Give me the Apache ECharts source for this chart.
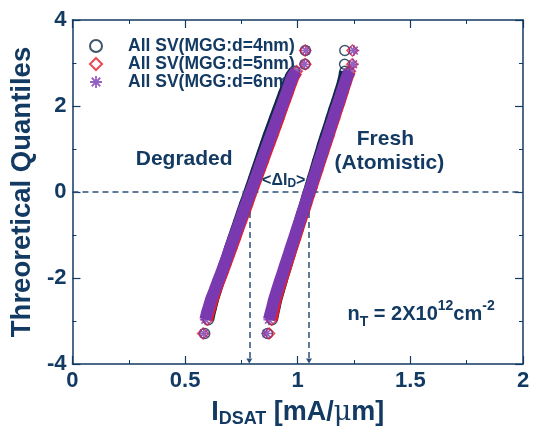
<!DOCTYPE html>
<html><head><meta charset="utf-8">
<script src="https://cdn.jsdelivr.net/npm/echarts@6/dist/echarts.min.js"></script>
<style>html,body{margin:0;padding:0;background:#fff}#c{width:536px;height:433px}</style>
</head><body><div id="c"></div>
<script>
// theoretical quantiles (y) shared by every curve
const quantiles = [-3.29,-2.97,-2.81,-2.69,-2.5,-2.3,-2.1,-1.9,-1.7,-1.5,-1.3,-1.1,-0.9,-0.7,-0.5,-0.3,-0.1,0.1,0.3,0.5,0.7,0.9,1.1,1.3,1.5,1.7,1.9,2.1,2.3,2.5,2.69,2.81,2.97,3.29];
// IDSAT values, degraded group
const degraded4 = [0.587,0.603,0.609,0.615,0.624,0.636,0.648,0.662,0.675,0.688,0.700,0.713,0.726,0.739,0.752,0.765,0.779,0.792,0.805,0.818,0.831,0.844,0.857,0.870,0.884,0.898,0.912,0.926,0.940,0.955,0.970,0.985,1.032,1.034];
const degraded5 = [0.580,0.598,0.605,0.612,0.622,0.635,0.649,0.664,0.678,0.692,0.706,0.720,0.733,0.747,0.761,0.775,0.788,0.802,0.816,0.830,0.844,0.858,0.872,0.886,0.900,0.914,0.927,0.941,0.955,0.968,0.982,0.996,1.034,1.033];
const degraded6 = [0.583,0.590,0.597,0.604,0.615,0.630,0.644,0.659,0.673,0.687,0.700,0.714,0.728,0.742,0.755,0.769,0.783,0.797,0.811,0.825,0.838,0.852,0.866,0.880,0.894,0.908,0.922,0.936,0.950,0.963,0.977,0.992,1.030,1.036];
// IDSAT values, fresh (atomistic) group
const fresh4 = [0.866,0.886,0.892,0.897,0.905,0.916,0.927,0.938,0.950,0.961,0.973,0.985,0.997,1.008,1.020,1.032,1.043,1.055,1.066,1.078,1.089,1.101,1.112,1.124,1.137,1.149,1.161,1.174,1.186,1.198,1.207,1.210,1.208,1.209];
const fresh5 = [0.873,0.884,0.890,0.895,0.903,0.914,0.926,0.938,0.950,0.962,0.974,0.987,0.999,1.011,1.024,1.036,1.048,1.061,1.073,1.086,1.098,1.111,1.123,1.136,1.148,1.161,1.173,1.186,1.198,1.210,1.222,1.232,1.242,1.243];
const fresh6 = [0.862,0.872,0.880,0.886,0.895,0.907,0.919,0.932,0.944,0.957,0.969,0.982,0.994,1.007,1.019,1.032,1.044,1.057,1.069,1.082,1.094,1.107,1.119,1.132,1.144,1.157,1.169,1.182,1.194,1.207,1.219,1.230,1.246,1.249];

const seriesNames = ['All SV(MGG:d=4nm)','All SV(MGG:d=5nm)','All SV(MGG:d=6nm)'];
const xTicks = [0,0.5,1,1.5,2];
const yTicks = [-4,-2,0,2,4];
const zeroLineY = 0;
const deltaMarkX = [0.785, 1.05];
const arrowEndY = -3.93;

const NAVY = '#133a62';
const C4 = '#0f2a48', C5 = '#e81c2c', C6 = '#7b3ab0';
const FONT = '"Liberation Sans", Arial, sans-serif';
const STAR = 'path://M-10,-1.5L10,-1.5L10,1.5L-10,1.5Z M-1.5,-10L1.5,-10L1.5,10L-1.5,10Z M-6.01,-8.13L8.13,6.01L6.01,8.13L-8.13,-6.01Z M-8.13,6.01L6.01,-8.13L8.13,-6.01L-6.01,8.13Z';

function pairs(xs){ return xs.map((x,i)=>[x, quantiles[i]]); }
function bandPairs(xs){ return pairs(xs).slice(1, quantiles.length - 2); }

const chart = echarts.init(document.getElementById('c'), null, {renderer:'canvas'});

function band(xs, color, w, z){
  return {type:'line', name:'band', data: bandPairs(xs), showSymbol:false, symbol:'none', silent:true,
    lineStyle:{color, width:w}, z:z};
}
function axisCommon(){
  return {
    axisLine:{show:true, onZero:false, lineStyle:{color:NAVY, width:1.5}},
    axisTick:{show:true, inside:true, length:8, lineStyle:{color:NAVY, width:1.2}},
    minorTick:{show:true, splitNumber:2, length:4, lineStyle:{color:NAVY, width:1}},
    splitLine:{show:false}
  };
}

const option = {
  animation:false,
  backgroundColor:'#fff',
  grid:{left:71, right:13, top:20, bottom:62, containLabel:false},
  legend:{
    data: seriesNames, orient:'vertical', left:84, top:32,
    itemWidth:12, itemHeight:12, itemGap:0,
    textStyle:{color:NAVY, fontFamily:FONT, fontWeight:'bold', fontSize:17.5, padding:[0,0,0,21]}
  },
  xAxis:[
    Object.assign(axisCommon(), {type:'value', min:xTicks[0], max:xTicks[xTicks.length-1], interval:xTicks[1]-xTicks[0],
      axisLabel:{color:NAVY, fontFamily:FONT, fontWeight:'bold', fontSize:22, margin:6,
        formatter:v=>String(v)},
      name:'{m|I}{s|DSAT}{m| [mA/}{u|μ}{m|m]}', nameLocation:'middle', nameGap:34,
      nameTextStyle:{color:NAVY, rich:{
        m:{fontFamily:FONT, fontWeight:'bold', fontSize:27, lineHeight:30, color:NAVY, verticalAlign:'middle'},
        s:{fontFamily:FONT, fontWeight:'bold', fontSize:18, lineHeight:17, color:NAVY, verticalAlign:'bottom'},
        u:{fontFamily:'"DejaVu Serif", serif', fontSize:27, lineHeight:30, color:NAVY, verticalAlign:'middle'}
      }}}),
    Object.assign(axisCommon(), {type:'value', position:'top', min:xTicks[0], max:xTicks[xTicks.length-1], interval:xTicks[1]-xTicks[0],
      axisLabel:{show:false}})
  ],
  yAxis:[
    Object.assign(axisCommon(), {type:'value', min:yTicks[0], max:yTicks[yTicks.length-1], interval:yTicks[1]-yTicks[0],
      axisLabel:{color:NAVY, fontFamily:FONT, fontWeight:'bold', fontSize:22, margin:6},
      name:'Threoretical Quantiles', nameLocation:'middle', nameGap:35, nameRotate:90,
      nameTextStyle:{color:NAVY, fontFamily:FONT, fontWeight:'bold', fontSize:27.5}}),
    Object.assign(axisCommon(), {type:'value', position:'right', min:yTicks[0], max:yTicks[yTicks.length-1], interval:yTicks[1]-yTicks[0],
      axisLabel:{show:false}})
  ],
  series:[
    band(degraded4, C4, 12, 2), band(fresh4, C4, 12, 2),
    {type:'scatter', name:seriesNames[0], data: pairs(degraded4).concat(pairs(fresh4)), symbol:'circle', symbolSize:10, z:3,
      itemStyle:{color:'rgba(255,255,255,0)', borderColor:C4, borderWidth:1.5}},
    band(degraded5, C5, 12, 4), band(fresh5, C5, 12, 4),
    {type:'scatter', name:seriesNames[1], data: pairs(degraded5).concat(pairs(fresh5)), symbol:'diamond', symbolSize:11, z:5,
      itemStyle:{color:'rgba(255,255,255,0)', borderColor:C5, borderWidth:1.5}},
    band(degraded6, C6, 12, 6), band(fresh6, C6, 12, 6),
    {type:'scatter', name:seriesNames[2], data: pairs(degraded6).concat(pairs(fresh6)), symbol:STAR, symbolSize:11, z:7,
      itemStyle:{color:C6},
      markLine:{silent:true, animation:false, label:{show:false},
        lineStyle:{color:'#2b5078', width:1.5, type:[6,4]},
        data:[
          [{coord:[xTicks[0], zeroLineY], symbol:'none'}, {coord:[xTicks[xTicks.length-1], zeroLineY], symbol:'none'}],
          [{coord:[deltaMarkX[0], zeroLineY], symbol:'none'}, {coord:[deltaMarkX[0], arrowEndY], symbol:'triangle', symbolSize:[6,5], symbolRotate:180}],
          [{coord:[deltaMarkX[1], zeroLineY], symbol:'none'}, {coord:[deltaMarkX[1], arrowEndY], symbol:'triangle', symbolSize:[6,5], symbolRotate:180}]
        ]}}
  ]
};
chart.setOption(option);

// annotation texts placed in data coordinates
const notes = [
  {at:[0.496, 0.76], text:'Degraded', align:'center'},
  {at:[1.389, 1.22], text:'Fresh', align:'center'},
  {at:[1.407, 0.67], text:'(Atomistic)', align:'center'},
];
const g = notes.map(n => {
  const p = chart.convertToPixel({xAxisIndex:0, yAxisIndex:0}, n.at);
  return {type:'text', x:p[0], y:p[1], z:10, style:{text:n.text, fill:NAVY, font:'bold 21px ' + FONT, align:n.align, verticalAlign:'middle'}};
});
const pD = chart.convertToPixel({xAxisIndex:0, yAxisIndex:0}, [0.938, 0.26]);
g.push({type:'text', x:pD[0], y:pD[1], z:10, style:{
  text:'{m|<ΔI}{s|D}{m|>}', align:'center', verticalAlign:'middle',
  rich:{m:{fontFamily:FONT, fontWeight:'bold', fontSize:16, lineHeight:18, fill:NAVY, color:NAVY, verticalAlign:'middle'},
        s:{fontFamily:FONT, fontWeight:'bold', fontSize:12, lineHeight:11, fill:NAVY, color:NAVY, verticalAlign:'bottom'}}}});
const pN = chart.convertToPixel({xAxisIndex:0, yAxisIndex:0}, [1.221, -2.85]);
g.push({type:'text', x:pN[0], y:pN[1], z:10, style:{
  text:'{m|n}{s|T}{m| = 2X10}{p|12}{m|cm}{p|-2}', align:'left', verticalAlign:'middle',
  rich:{m:{fontFamily:FONT, fontWeight:'bold', fontSize:20, lineHeight:30, fill:NAVY, color:NAVY, verticalAlign:'middle'},
        s:{fontFamily:FONT, fontWeight:'bold', fontSize:14, lineHeight:14, fill:NAVY, color:NAVY, verticalAlign:'bottom'},
        p:{fontFamily:FONT, fontWeight:'bold', fontSize:14, lineHeight:14, fill:NAVY, color:NAVY, verticalAlign:'top'}}}});
chart.setOption({graphic:g});
</script></body></html>
